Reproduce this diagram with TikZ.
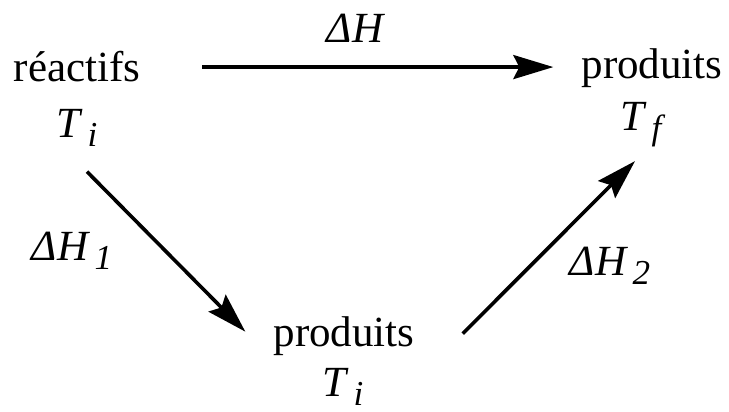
\documentclass[tikz,border=0pt]{standalone}
\usepackage{fontspec}
\setmainfont{Liberation Serif}
\usetikzlibrary{arrows.meta}

\newcommand{\ind}[2]{\textit{#1}\kern0.1em\raisebox{-0.22em}{\fontsize{35}{40}\selectfont\textit{#2}}}

\begin{document}
\begin{tikzpicture}[x=1pt, y=-1pt, >={Stealth[length=40pt,width=24pt,inset=6pt]},
    font=\fontsize{43}{52}\selectfont, every node/.style={inner sep=0pt, anchor=base}]
		      \useasboundingbox (0,0) rectangle (729,412);
		      % etats
		      \node (reac)  at (77,82)   {réactifs};
		      \node (Ti)    at (77,137)  {\ind{T}{i}};
		      \node (prodf) at (652,78)  {produits};
		      \node (Tf)    at (643,130) {\ind{T}{f}};
		      \node (prodb) at (344,346) {produits};
		      \node (Tb)    at (343,396) {\ind{T}{i}};
		      % enthalpies
		      \node (dH)  at (356,43)  {\textit{ΔH}};
		      \node (dH1) at (72,260)  {\ind{ΔH}{1}};
		      \node (dH2) at (610,275) {\ind{ΔH}{2}};
		      % fleches
		      \draw[->, line width=3.6pt, shorten <=62pt, shorten >=28pt] (reac.east) -- (reac.east -| prodf.west);
		      \draw[->, line width=3.6pt] ([xshift=10pt,yshift=-25pt]Ti.south) -- ([xshift=-28pt,yshift=4pt]prodb.west);
		      \draw[->, line width=3.6pt] ([xshift=48pt,yshift=2pt]prodb.east) -- ([xshift=-8pt,yshift=-14pt]Tf.south);
		      \end{tikzpicture}
\end{document}
